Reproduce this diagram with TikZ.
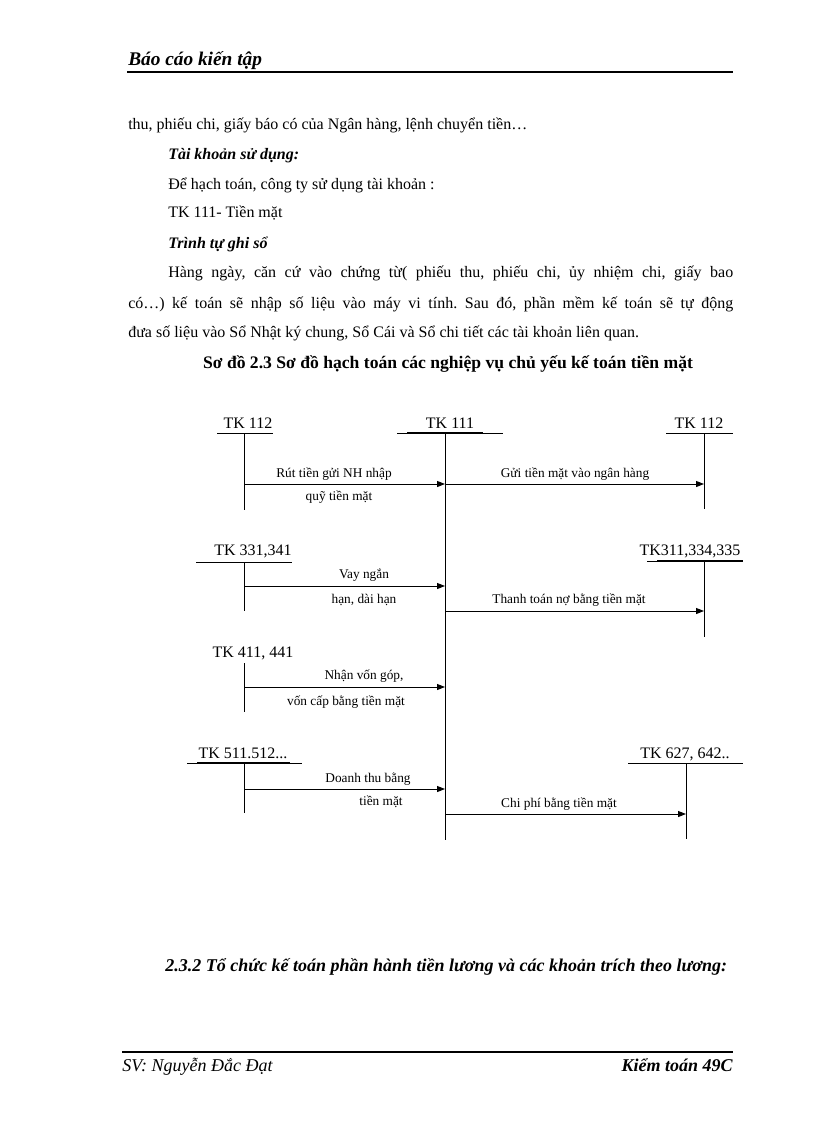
\documentclass[tikz,border=0pt]{standalone}
\usepackage{fontspec}
\setmainfont{Liberation Serif}
\usetikzlibrary{arrows.meta,positioning}
\frenchspacing

\begin{document}
\begin{tikzpicture}[
    x=0.75pt, y=-0.75pt,
    txt/.style={anchor=base west, inner sep=0pt, font=\fontsize{12}{14}\selectfont},
    bitxt/.style={txt, font=\fontsize{12}{14}\selectfont\bfseries\itshape},
    big/.style={anchor=base west, inner sep=0pt, font=\fontsize{13.5}{16}\selectfont\bfseries\itshape},
    acct/.style={anchor=base, inner sep=0pt, font=\fontsize{12}{14}\selectfont},
    lbl/.style={anchor=base, inner sep=0pt, font=\fontsize{10}{12}\selectfont},
    tline/.style={line width=0.75pt},
    uline/.style={line width=1.6pt},
    rule/.style={line width=2.2pt},
    arrow/.style={-{Triangle[length=6pt,width=4.5pt]}, line width=0.75pt}
]
    \useasboundingbox (0,0) rectangle (816,1123);

    % --- page header ---
    \node[big, font=\fontsize{14.5}{17}\selectfont\bfseries\itshape] (hdr) at (128,66) {Báo cáo kiến tập};
    \coordinate (hdrl) at (127,72);
    \coordinate (hdrr) at (733,72);
    \draw[rule] (hdrl) -- (hdrr);

    % --- body text ---
    \node[txt] (p1) at (128,130) {thu, phiếu chi, giấy báo có của Ngân hàng, lệnh chuyển tiền…};
    \node[bitxt] (p2) at (168,160) {Tài khoản sử dụng:};
    \node[txt] (p3) at (168,190) {Để hạch toán, công ty sử dụng tài khoản :};
    \node[txt] (p4) at (168,218) {TK 111- Tiền mặt};
    \node[bitxt] (p5) at (168,248) {Trình tự ghi sổ};
    \node[txt] (p6) at (168,277) {\makebox[423.75pt][s]{Hàng ngày, căn cứ vào chứng từ( phiếu thu, phiếu chi, ủy nhiệm chi, giấy bao}};
    \node[txt] (p7) at (128,308) {\makebox[453.75pt][s]{có…) kế toán sẽ nhập số liệu vào máy vi tính. Sau đó, phần mềm kế toán sẽ tự động}};
    \node[txt] (p8) at (128,337) {đưa số liệu vào Sổ Nhật ký chung, Sổ Cái và Sổ chi tiết các tài khoản liên quan.};
    \node[txt, anchor=base, font=\fontsize{13.2}{15}\selectfont\bfseries] (cap) at (448,368) {Sơ đồ 2.3 Sơ đồ hạch toán các nghiệp vụ chủ yếu kế toán tiền mặt};

    % --- account names ---
    \node[acct] (k112a) at (248,428) {TK 112};
    \node[acct] (k111) at (450,428) {TK 111};
    \node[acct] (k112b) at (699,428) {TK 112};
    \node[acct] (k331) at (253,555) {TK 331,341};
    \node[acct] (k311) at (690,555) {TK311,334,335};
    \node[acct] (k411) at (253,657) {TK 411, 441};
    \node[acct] (k511) at (243,758) {TK 511.512...};
    \node[acct] (k627) at (685,758) {TK 627, 642..};

    % --- tops of the T lines ---
    \coordinate (v112a) at (244,433);
    \coordinate (v111) at (445,433);
    \coordinate (v112b) at (704,433);
    \coordinate (v331) at (244,562);
    \coordinate (v311) at (704,561);
    \coordinate (v411) at (244,663);
    \coordinate (v511) at (244,763);
    \coordinate (v627) at (686,763);

    % --- underlines ---
    \draw[tline] (217,433) -- (273,433);
    \draw[tline] (397,433) -- (503,433);
    \draw[uline] (407,433) -- (483,433);
    \draw[tline] (666,433) -- (733,433);
    \draw[tline] (196,562) -- (292,562);
    \draw[tline] (647,561) -- (743,561);
    \draw[uline] (657,561) -- (743,561);
    \draw[tline] (187,763) -- (302,763);
    \draw[uline] (197,763) -- (290,763);
    \draw[tline] (628,763) -- (743,763);

    % --- vertical lines ---
    \draw[tline] (v112a) -- ++(0,77);
    \draw[tline] (v111) -- ++(0,407);
    \draw[tline] (v112b) -- ++(0,76);
    \draw[tline] (v331) -- ++(0,49);
    \draw[tline] (v311) -- ++(0,76);
    \draw[tline] (v411) -- ++(0,49);
    \draw[tline] (v511) -- ++(0,50);
    \draw[tline] (v627) -- ++(0,76);

    % --- rows of the entries ---
    \coordinate (r1) at (0,484);
    \coordinate (r2) at (0,586);
    \coordinate (r3) at (0,611);
    \coordinate (r4) at (0,687);
    \coordinate (r5) at (0,789);
    \coordinate (r6) at (0,814);

    % --- entries into TK 111 ---
    \draw[arrow] (v112a |- r1) -- (v111 |- r1);
    \node[lbl] (e1a) at (334,477) {Rút tiền gửi NH nhập};
    \node[lbl] (e1b) at (339,500) {quỹ tiền mặt};
    \draw[arrow] (v331 |- r2) -- (v111 |- r2);
    \node[lbl] (e2a) at (364,578) {Vay ngắn};
    \node[lbl] (e2b) at (364,603) {hạn, dài hạn};
    \draw[arrow] (v411 |- r4) -- (v111 |- r4);
    \node[lbl] (e4a) at (364,679) {Nhận vốn góp,};
    \node[lbl] (e4b) at (346,705) {vốn cấp bằng tiền mặt};
    \draw[arrow] (v511 |- r5) -- (v111 |- r5);
    \node[lbl] (e5a) at (368,782) {Doanh thu bằng};
    \node[lbl] (e5b) at (381,805) {tiền mặt};

    % --- entries out of TK 111 ---
    \draw[arrow] (v111 |- r1) -- (v112b |- r1);
    \node[lbl] (o1) at (575,477) {Gửi tiền mặt vào ngân hàng};
    \draw[arrow] (v111 |- r3) -- (v311 |- r3);
    \node[lbl] (o3) at (569,603) {Thanh toán nợ bằng tiền mặt};
    \draw[arrow] (v111 |- r6) -- (v627 |- r6);
    \node[lbl] (o6) at (559,807) {Chi phí bằng tiền mặt};

    % --- next section and footer ---
    \node[big] (sec) at (165,971) {2.3.2 Tổ chức kế toán phần hành tiền lương và các khoản trích theo lương:};
    \coordinate (ftl) at (122,1052);
    \coordinate (ftr) at (733,1052);
    \draw[rule] (ftl) -- (ftr);
    \node[big, font=\fontsize{13.5}{16}\selectfont\itshape] (sv) at (122,1071) {SV: Nguyễn Đắc Đạt};
    \node[big, anchor=base east] (lop) at (733,1071) {Kiểm toán 49C};

\end{tikzpicture}
\end{document}
